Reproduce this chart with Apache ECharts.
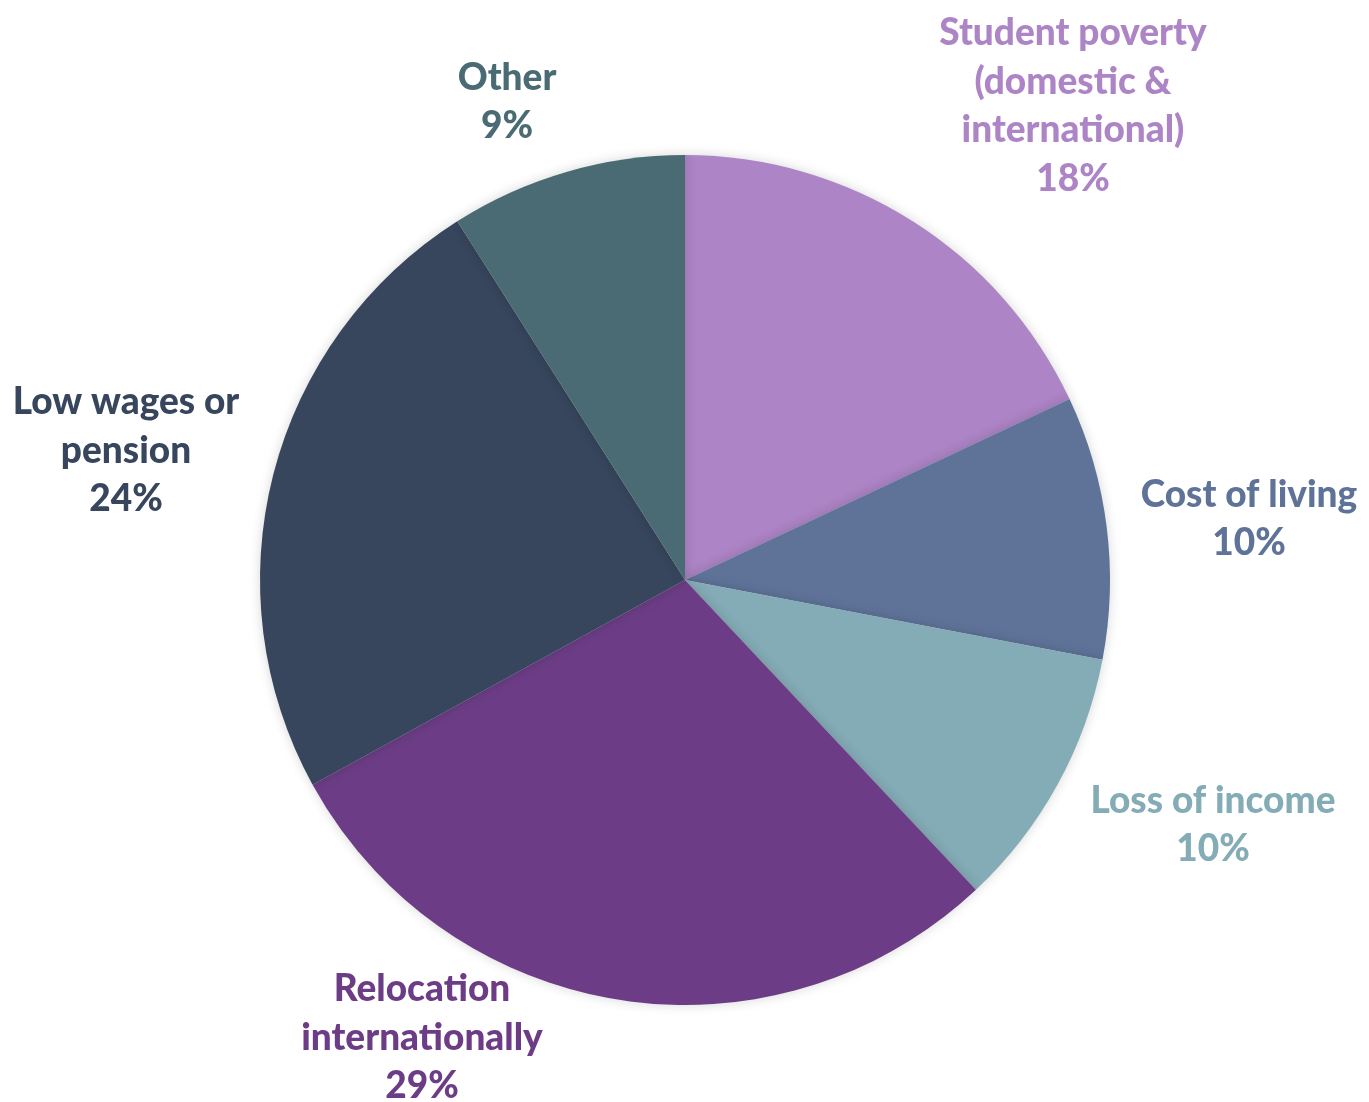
<!DOCTYPE html>
<html>
<head>
<meta charset="utf-8">
<script src="https://cdn.jsdelivr.net/npm/echarts@6/dist/echarts.min.js"></script>
<style>
html,body{margin:0;padding:0;background:#fff;}
#chart{width:1369px;height:1102px;}
</style>
</head>
<body>
<div id="chart"></div>
<script>
const categories = [
  "Student poverty\n(domestic &\ninternational)",
  "Cost of living",
  "Loss of income",
  "Relocation\ninternationally",
  "Low wages or\npension",
  "Other"
];
const values = [18, 10, 10, 29, 24, 9];
const colors = ["#AD84C6", "#5F7399", "#84ACB6", "#6C3D86", "#37465D", "#4A6B74"];
const labelPositions = [
  [1073, 106],
  [1249, 519],
  [1213, 825],
  [422, 1038],
  [126, 451],
  [507, 102]
];

const chart = echarts.init(document.getElementById('chart'));
chart.setOption({
  backgroundColor: '#ffffff',
  animation: false,
  series: [{
    type: 'pie',
    center: [685, 580],
    radius: 425,
    startAngle: 90,
    clockwise: true,
    data: categories.map((c, i) => ({
      name: c,
      value: values[i],
      itemStyle: { color: colors[i] },
      label: { color: colors[i] }
    })),
    itemStyle: {
      shadowBlur: 12,
      shadowColor: 'rgba(0,0,0,0.16)'
    },
    label: {
      show: true,
      position: 'outside',
      formatter: p => p.name + '\n' + p.value + '%',
      fontFamily: 'Lato',
      fontWeight: 900,
      fontSize: 37,
      lineHeight: 48.5,
      align: 'center',
      verticalAlign: 'middle',
      overflow: 'none',
      width: 400
    },
    labelLine: { show: false },
    labelLayout: function (params) {
      const pos = labelPositions[params.dataIndex];
      return { x: pos[0], y: pos[1], align: 'center', verticalAlign: 'middle', hideOverlap: false };
    },
    emphasis: { disabled: true }
  }]
});
</script>
</body>
</html>
